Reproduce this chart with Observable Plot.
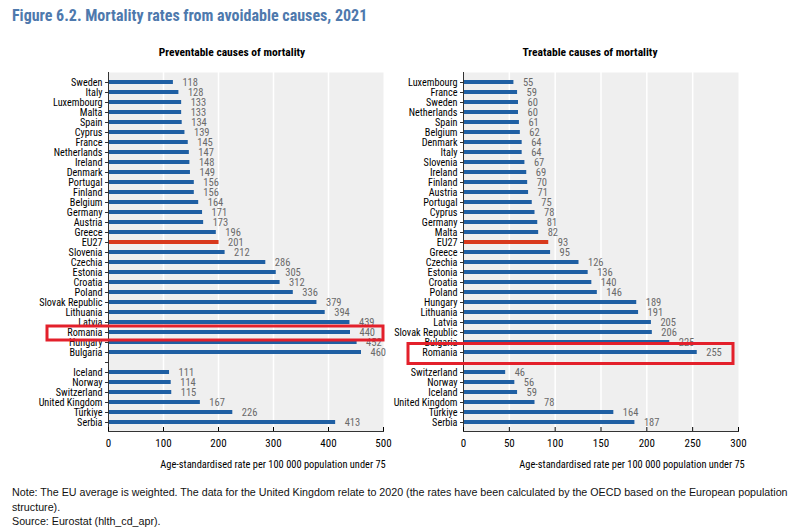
<!DOCTYPE html>
<html>
<head>
<meta charset="utf-8">
<script src="https://cdn.jsdelivr.net/npm/d3@7"></script>
<script src="https://cdn.jsdelivr.net/npm/@observablehq/plot@0.6"></script>
<style>
  html, body { margin: 0; padding: 0; background: #fff; }
  body { width: 800px; height: 532px; position: relative; overflow: hidden; font-family: "Liberation Sans", Arial, sans-serif; }
  .title { position: absolute; left: 12px; top: 6px; font-family: "Roboto Condensed", "Liberation Sans", sans-serif; font-size: 16px; font-weight: bold; color: #4e79ad; white-space: nowrap; }
  .ptitle { position: absolute; top: 45px; font-family: "Roboto Condensed", "Liberation Sans", sans-serif; font-size: 11.5px; font-weight: bold; color: #000; transform: translateX(-50%); white-space: nowrap; }
  .panel { position: absolute; top: 62px; }
  .foot { position: absolute; left: 12px; top: 485px; font-size: 10.7px; line-height: 14.5px; color: #111; white-space: nowrap; }
</style>
</head>
<body>
<div class="title">Figure 6.2. Mortality rates from avoidable causes, 2021</div>
<div class="ptitle" style="left:232px">Preventable causes of mortality</div>
<div class="ptitle" style="left:590px">Treatable causes of mortality</div>
<div class="panel" id="left" style="left:0px"></div>
<div class="panel" id="right" style="left:355px"></div>
<div class="foot">Note: The EU average is weighted. The data for the United Kingdom relate to 2020 (the rates have been calculated by the OECD based on the European population<br>structure).<br>Source: Eurostat (hlth_cd_apr).</div>
<script>
// ---- Data ----
const prevEU = ["Sweden","Italy","Luxembourg","Malta","Spain","Cyprus","France","Netherlands","Ireland","Denmark","Portugal","Finland","Belgium","Germany","Austria","Greece","EU27","Slovenia","Czechia","Estonia","Croatia","Poland","Slovak Republic","Lithuania","Latvia","Romania","Hungary","Bulgaria"];
const prevEUValues = [118,128,133,133,134,139,145,147,148,149,156,156,164,171,173,196,201,212,286,305,312,336,379,394,439,440,452,460];
const prevOther = ["Iceland","Norway","Switzerland","United Kingdom","Türkiye","Serbia"];
const prevOtherValues = [111,114,115,167,226,413];

const treatEU = ["Luxembourg","France","Sweden","Netherlands","Spain","Belgium","Denmark","Italy","Slovenia","Ireland","Finland","Austria","Portugal","Cyprus","Germany","Malta","EU27","Greece","Czechia","Estonia","Croatia","Poland","Hungary","Lithuania","Latvia","Slovak Republic","Bulgaria","Romania"];
const treatEUValues = [55,59,60,60,61,62,64,64,67,69,70,71,75,78,81,82,93,95,126,136,140,146,189,191,205,206,225,255];
const treatOther = ["Switzerland","Norway","Iceland","United Kingdom","Türkiye","Serbia"];
const treatOtherValues = [46,56,59,78,164,187];

const prevTicks = [0,100,200,300,400,500];
const treatTicks = [0,50,100,150,200,250,300];
const highlighted = ["Romania"];
const axisTitle = "Age-standardised rate per 100 000 population under 75";

// ---- Chart ----
const GAP = "\u2003gap";
const BLUE = "#1f5fa3", RED = "#d8391c";
const NARROW = '"Roboto Condensed", "Liberation Sans", sans-serif';

function panel({eu, euVals, other, otherVals, ticks, box, titleDx}) {
  const rows = [
    ...eu.map((name, i) => ({name, value: euVals[i]})),
    ...other.map((name, i) => ({name, value: otherVals[i]}))
  ];
  const domain = [...eu, GAP, ...other];
  const xMax = ticks[ticks.length - 1];
  return Plot.plot({
    width: 400,
    height: 415,
    marginLeft: 108,
    marginRight: 17,
    marginTop: 10,
    marginBottom: 46,
    style: {fontFamily: NARROW, fontSize: "10.2px", color: "#000", background: "transparent", overflow: "visible"},
    x: {domain: [0, xMax], ticks},
    y: {domain, padding: 0},
    marks: [
      Plot.frame({fill: "#efefef", stroke: null}),
      Plot.gridX(ticks.slice(1, -1), {stroke: "#fff", strokeOpacity: 1, strokeWidth: 1.5}),
      Plot.barX(rows, {x: "value", y: "name", fill: d => d.name === "EU27" ? RED : BLUE, insetTop: 3, insetBottom: 3}),
      Plot.text(rows, {x: "value", y: "name", text: d => String(d.value), textAnchor: "start", dx: 9, fill: "#6a6a6a", fontSize: 10.5}),
      Plot.ruleX([0], {stroke: "#333"}),
      Plot.axisY({label: null, tickSize: 3, tickPadding: 3, stroke: "#333", tickFormat: d => d === GAP ? "" : d, fontSize: 10.2, fill: "#000"}),
      Plot.axisX({ticks, tickSize: -4, tickPadding: 12, label: null, fontSize: 11, fill: "#000"}),
      Plot.text([axisTitle], {frameAnchor: "bottom", dy: 36, dx: titleDx, fontSize: 10.4, fill: "#000"}),
      Plot.frame({anchor: "bottom", stroke: "#333"}),
      Plot.barX(highlighted, {y: d => d, x1: () => 0, x2: () => xMax, fill: "none", stroke: "#e3202b", strokeWidth: 3,
        insetLeft: box.left, insetRight: box.right, insetTop: box.top, insetBottom: box.bottom})
    ]
  });
}

document.getElementById("left").append(panel({
  eu: prevEU, euVals: prevEUValues, other: prevOther, otherVals: prevOtherValues,
  ticks: prevTicks, box: {left: -61, right: 0, top: -1, bottom: -3}, titleDx: 27
}));
document.getElementById("right").append(panel({
  eu: treatEU, euVals: treatEUValues, other: treatOther, otherVals: treatOtherValues,
  ticks: treatTicks, box: {left: -55, right: 5, top: -3.5, bottom: -6.5}, titleDx: 31
}));
</script>
</body>
</html>
